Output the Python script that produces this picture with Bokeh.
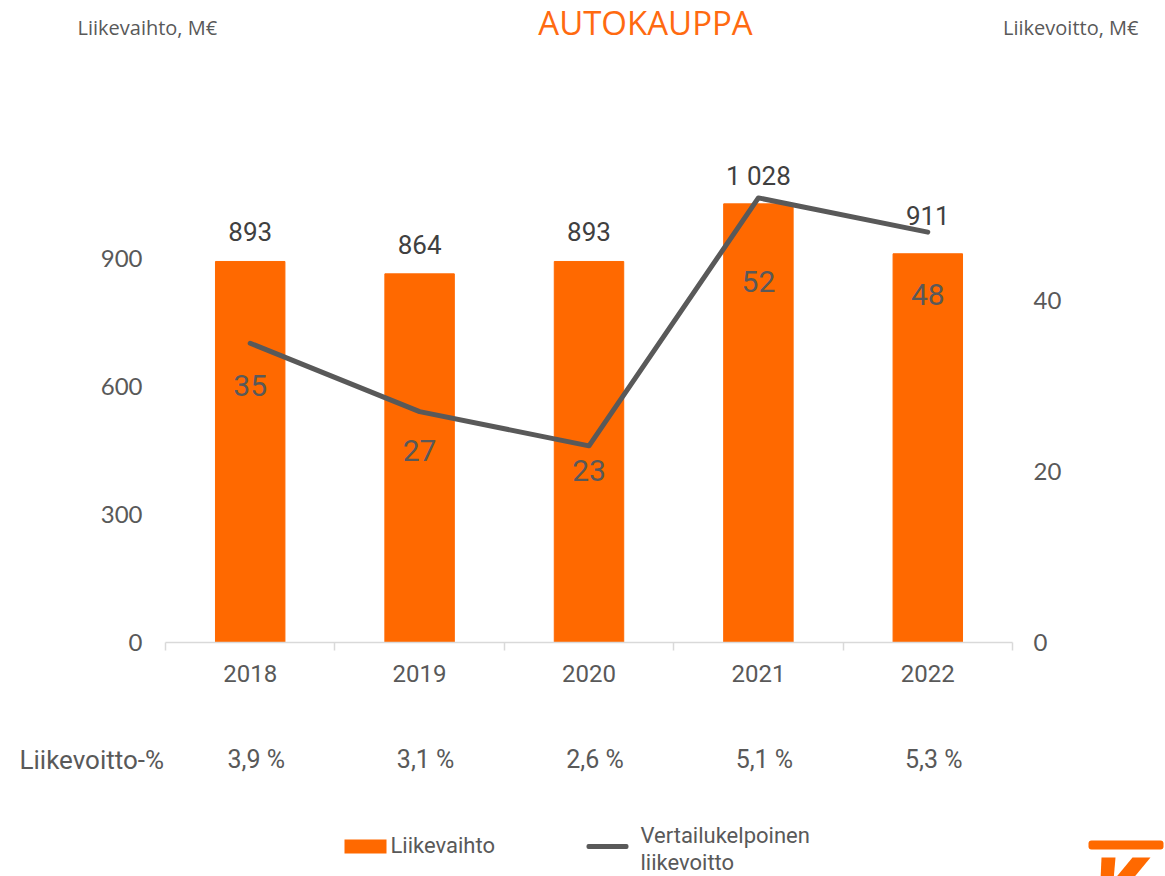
from bokeh.plotting import figure
from bokeh.layouts import column
from bokeh.core.properties import value
from bokeh.models import (Range1d, LinearAxis, FixedTicker, CustomJSTickFormatter,
                          ColumnDataSource, Label, BoxAnnotation, PolyAnnotation)
from bokeh.embed import file_html
from bokeh.resources import INLINE

# ---------------- data ----------------
years = ["2018", "2019", "2020", "2021", "2022"]
revenue = [893, 864, 893, 1028, 911]
revenue_labels = ["893", "864", "893", "1 028", "911"]
ebit = [35, 27, 23, 52, 48]
ebit_labels = ["35", "27", "23", "52", "48"]
margin_labels = ["3,9 %", "3,1 %", "2,6 %", "5,1 %", "5,3 %"]
left_ticks = [0, 300, 600, 900]
right_ticks = [0, 20, 40]

# ---------------- style ----------------
ORANGE = "#ff6900"
TITLE_ORANGE = "#ff6a10"
GREY = "#595959"
DARK = "#404040"
AXIS = "#d9d9d9"
FONT = "Roboto"
rev_label_dy = [30, 29, 30, 28, 38]     # px above bar top
ebit_label_dy = [42, 39, 25, 84, 62]    # px below the line point

W = 1165
H_HEAD, H_MAIN, H_FOOT = 60, 660, 156
B_LEFT, B_RIGHT = 165, 153
FRAME_W = W - B_LEFT - B_RIGHT
B_TOP, FRAME_H = 92, 490
B_BOTTOM = H_MAIN - B_TOP - FRAME_H
N = len(years)
xs = [i + 0.5 for i in range(N)]


def blank(height, x_range, y_range):
    f = figure(width=W, height=height, x_range=x_range, y_range=y_range,
               output_backend="svg", toolbar_location=None, x_axis_type=None,
               y_axis_type=None, min_border=0, frame_align=False)
    f.outline_line_color = None
    f.grid.visible = False
    f.background_fill_color = "white"
    f.border_fill_color = "white"
    return f


# ---------------- header ----------------
head = blank(H_HEAD, Range1d(0, W), Range1d(H_HEAD, 0))
head.text(x=[645], y=[22], text=["AUTOKAUPPA"], text_align="center",
          text_baseline="middle", text_font=value("Open Sans"), text_font_size="33px",
          text_color=TITLE_ORANGE)
head.text(x=[77], y=[27], text=["Liikevaihto, M€"], text_align="left",
          text_baseline="middle", text_font=value("Open Sans"), text_font_size="20px",
          text_color=GREY)
head.text(x=[1138], y=[27], text=["Liikevoitto, M€"], text_align="right",
          text_baseline="middle", text_font=value("Open Sans"), text_font_size="20px",
          text_color=GREY)

# ---------------- main chart ----------------
p = figure(width=W, height=H_MAIN, x_range=Range1d(0, N),
           y_range=Range1d(0, 1148.4), output_backend="svg", toolbar_location=None,
           min_border_left=B_LEFT, min_border_right=B_RIGHT, min_border_top=B_TOP,
           min_border_bottom=B_BOTTOM, frame_align=False)
p.extra_y_ranges = {"right": Range1d(0, 57.31)}
p.outline_line_color = None
p.grid.visible = False
p.background_fill_color = "white"
p.border_fill_color = "white"

src = ColumnDataSource(dict(x=xs, rev=revenue, rev_lbl=revenue_labels, ebit=ebit,
                            ebit_lbl=ebit_labels,
                            rdy=[-d for d in rev_label_dy], edy=ebit_label_dy))

p.vbar(x="x", top="rev", width=0.41, source=src, color=ORANGE)
p.line("x", "ebit", source=src, y_range_name="right", line_width=5, color=GREY,
       line_cap="round", line_join="round")

xa = p.xaxis[0]
xa.ticker = FixedTicker(ticks=xs, minor_ticks=list(range(N + 1)))
xa.formatter = CustomJSTickFormatter(args=dict(labels=years),
                                     code="return labels[Math.floor(tick)];")
xa.major_tick_line_color = None
xa.major_tick_out = 0
xa.major_tick_in = 0
xa.minor_tick_line_color = AXIS
xa.minor_tick_line_width = 1.5
xa.minor_tick_out = 8
xa.minor_tick_in = 0
xa.axis_line_color = AXIS
xa.axis_line_width = 1.5
xa.major_label_text_font = FONT
xa.major_label_text_font_size = "24px"
xa.major_label_text_color = GREY
xa.major_label_standoff = 14

ya = p.yaxis[0]
ya.ticker = FixedTicker(ticks=left_ticks)
ya.axis_line_color = None
ya.major_tick_line_color = None
ya.minor_tick_line_color = None
ya.major_tick_out = 0
ya.major_label_text_font = "Lato"
ya.major_label_text_font_size = "24px"
ya.major_label_text_color = GREY
ya.major_label_standoff = 23

ra = LinearAxis(y_range_name="right", ticker=FixedTicker(ticks=right_ticks))
ra.axis_line_color = None
ra.major_tick_line_color = None
ra.minor_tick_line_color = None
ra.major_tick_out = 0
ra.major_label_text_font = "Lato"
ra.major_label_text_font_size = "24px"
ra.major_label_text_color = GREY
ra.major_label_standoff = 21
p.add_layout(ra, "right")

p.text(x="x", y="rev", text="rev_lbl", source=src, text_align="center",
       text_baseline="middle", y_offset="rdy", text_font=value(FONT),
       text_font_size="26px", text_color=DARK)
p.text(x="x", y="ebit", text="ebit_lbl", source=src, y_range_name="right",
       text_align="center", text_baseline="middle", y_offset="edy",
       text_font=value(FONT), text_font_size="30px", text_color=GREY)

# ---------------- footer ----------------
ppu = FRAME_W / N   # px per category in main chart
foot = blank(H_FOOT, Range1d(-B_LEFT / ppu, N + B_RIGHT / ppu), Range1d(0, H_FOOT))
FOOT_TOP = H_HEAD + H_MAIN


def fy(ry):
    return FOOT_TOP + H_FOOT - ry


msrc = ColumnDataSource(dict(x=xs, y=[fy(759)] * N, t=margin_labels))
foot.text(x="x", y="y", text="t", source=msrc, text_align="center",
          text_baseline="middle", x_offset=6, text_font=value(FONT),
          text_font_size="25px", text_color=GREY)


def flab(text, rx, ry, align, size):
    foot.add_layout(Label(x=rx, y=fy(ry), x_units="screen", y_units="screen", text=text,
                          text_align=align, text_baseline="middle", text_font=FONT,
                          text_font_size=size, text_color=GREY))


def fbox(l, r, t, b, color, radius=0):
    foot.add_layout(BoxAnnotation(left=l, right=r, top=fy(t), bottom=fy(b),
                                  left_units="screen", right_units="screen",
                                  top_units="screen", bottom_units="screen",
                                  fill_color=color, fill_alpha=1, line_color=None,
                                  border_radius=radius))


flab("Liikevoitto-%", 19, 759, "left", "26px")
fbox(344, 386, 839, 853, ORANGE)
flab("Liikevaihto", 390, 845, "left", "22px")
fbox(586, 628, 843.5, 848.5, GREY, 2)
flab("Vertailukelpoinen", 640, 835, "left", "22px")
flab("liikevoitto", 640, 862, "left", "22px")

# logo
fbox(1088, 1163, 840, 849, ORANGE, 3)
foot.add_layout(PolyAnnotation(xs=[1101, 1115, 1113, 1100], ys=[fy(857), fy(857), fy(880), fy(880)],
                               xs_units="screen", ys_units="screen", fill_color=ORANGE,
                               fill_alpha=1, line_color=None))
foot.add_layout(PolyAnnotation(xs=[1132, 1150, 1131, 1113], ys=[fy(857), fy(857), fy(880), fy(880)],
                               xs_units="screen", ys_units="screen", fill_color=ORANGE,
                               fill_alpha=1, line_color=None))

layout = column(head, p, foot, spacing=0)
open("out.html", "w").write(file_html(layout, INLINE))
